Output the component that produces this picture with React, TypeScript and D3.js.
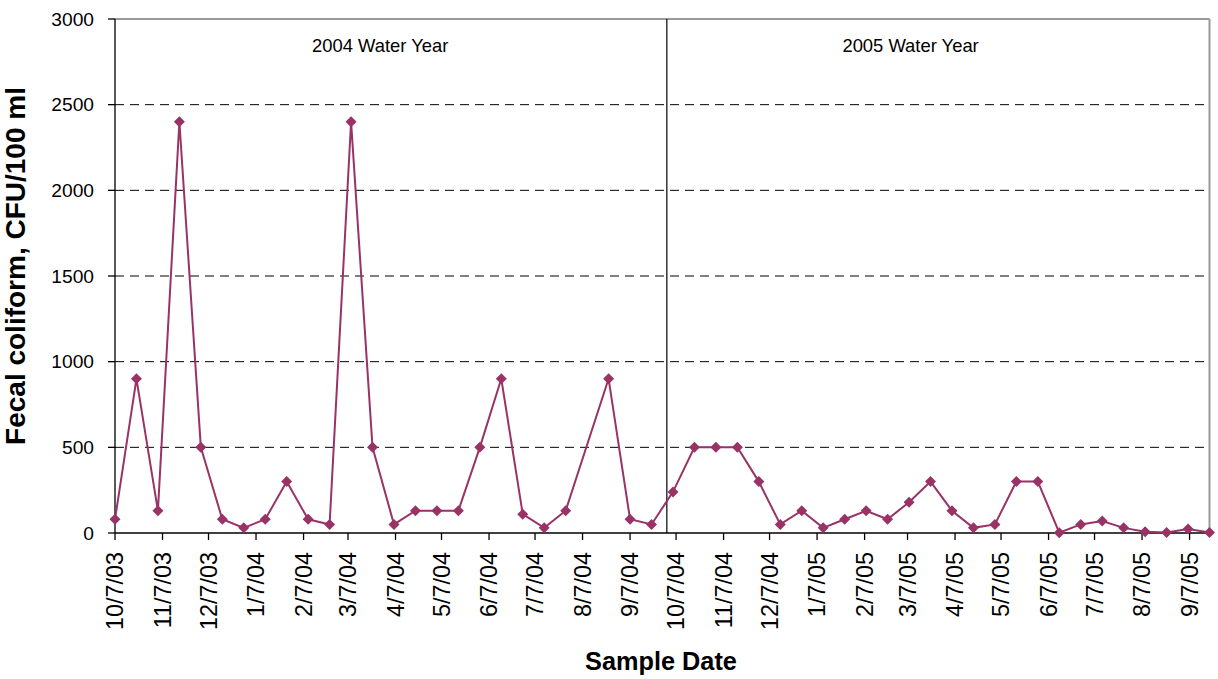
import React from "react";
import * as d3 from "d3";

const sampleDates: string[] = [
  "2003-10-07", "2003-10-21", "2003-11-04", "2003-11-18", "2003-12-02", "2003-12-16", "2003-12-30",
  "2004-01-13", "2004-01-27", "2004-02-10", "2004-02-24", "2004-03-09", "2004-03-23", "2004-04-06",
  "2004-04-20", "2004-05-04", "2004-05-18", "2004-06-01", "2004-06-15", "2004-06-29", "2004-07-13",
  "2004-07-27", "2004-08-24", "2004-09-07", "2004-09-21", "2004-10-05", "2004-10-19", "2004-11-02",
  "2004-11-16", "2004-11-30", "2004-12-14", "2004-12-28", "2005-01-11", "2005-01-25", "2005-02-08",
  "2005-02-22", "2005-03-08", "2005-03-22", "2005-04-05", "2005-04-19", "2005-05-03", "2005-05-17",
  "2005-05-31", "2005-06-14", "2005-06-28", "2005-07-12", "2005-07-26", "2005-08-09", "2005-08-23",
  "2005-09-06", "2005-09-20",
];

const fecalColiform: number[] = [
  80, 900, 130, 2400, 500, 80, 30,
  80, 300, 80, 50, 2400, 500, 50,
  130, 130, 130, 500, 900, 110, 30,
  130, 900, 80, 50, 240, 500, 500,
  500, 300, 50, 130, 30, 80, 130,
  80, 180, 300, 130, 30, 50, 300,
  300, 2, 50, 70, 30, 8, 3,
  23, 3,
];

const tickDates: string[] = [
  "2003-10-07", "2003-11-07", "2003-12-07", "2004-01-07", "2004-02-07", "2004-03-07", "2004-04-07",
  "2004-05-07", "2004-06-07", "2004-07-07", "2004-08-07", "2004-09-07", "2004-10-07", "2004-11-07",
  "2004-12-07", "2005-01-07", "2005-02-07", "2005-03-07", "2005-04-07", "2005-05-07", "2005-06-07",
  "2005-07-07", "2005-08-07", "2005-09-07",
];

const yTicks: number[] = [0, 500, 1000, 1500, 2000, 2500, 3000];

const xDomain: string[] = ["2003-10-07", "2005-09-20"];
const waterYearBoundary = "2004-10-01";
const waterYearLabels: string[] = ["2004 Water Year", "2005 Water Year"];
const waterYearLabelDates: string[] = ["2004-03-28", "2005-03-09"];

const parse = d3.timeParse("%Y-%m-%d");
const fmt = (d: Date) => `${d.getMonth() + 1}/${d.getDate()}/${String(d.getFullYear()).slice(2)}`;

export default function App() {
  const W = 1218, H = 679;
  const left = 115, right = 1209.5, top = 19, bottom = 533;
  const color = "#993366";
  const font = "'Liberation Sans', Arial, sans-serif";

  const x = d3.scaleTime()
    .domain(xDomain.map((s) => parse(s) as Date))
    .range([left, right]);
  const y = d3.scaleLinear().domain([0, 3000]).range([bottom, top]);

  const pts = sampleDates.map((s, i) => ({ d: parse(s) as Date, v: fecalColiform[i] }));
  const line = d3.line<{ d: Date; v: number }>().x((p) => x(p.d)).y((p) => y(p.v));
  const r = 5.5;
  const bx = x(parse(waterYearBoundary) as Date);

  return (
    <svg width={W} height={H} style={{ position: "absolute", left: 0, top: 0, background: "#fff" }} fontFamily={font}>
      {yTicks.filter((t) => t > 0 && t < 3000).map((t) => (
        <line key={t} x1={left} x2={right} y1={y(t)} y2={y(t)} stroke="#000" strokeWidth={1} strokeDasharray="9,6" />
      ))}
      <line x1={left} x2={right} y1={y(3000)} y2={y(3000)} stroke="#999" strokeWidth={2} />
      <line x1={right} x2={right} y1={top} y2={bottom} stroke="#999" strokeWidth={2} />
      <line x1={bx} x2={bx} y1={top} y2={bottom} stroke="#000" strokeWidth={1.2} />
      {waterYearLabels.map((lab, i) => (
        <text key={lab} x={x(parse(waterYearLabelDates[i]) as Date)} y={51.5} textAnchor="middle" fontSize={18.4} fill="#000">
          {lab}
        </text>
      ))}
      <line x1={left} x2={left} y1={top} y2={bottom} stroke="#000" strokeWidth={1.3} />
      <line x1={left} x2={right} y1={bottom} y2={bottom} stroke="#000" strokeWidth={1.3} />
      {yTicks.map((t) => (
        <g key={t}>
          <line x1={left - 7} x2={left} y1={y(t)} y2={y(t)} stroke="#000" strokeWidth={1.3} />
          <text x={left - 21} y={y(t)} dy="0.35em" textAnchor="end" fontSize={19.2} fill="#000">{t}</text>
        </g>
      ))}
      {tickDates.map((s) => {
        const xx = x(parse(s) as Date);
        return (
          <g key={s}>
            <line x1={xx} x2={xx} y1={bottom} y2={bottom + 7} stroke="#000" strokeWidth={1.3} />
            <text transform={`translate(${xx},${bottom + 19}) rotate(-90)`} dy="0.35em" textAnchor="end" fontSize={23.4} fill="#000">
              {fmt(parse(s) as Date)}
            </text>
          </g>
        );
      })}
      <path d={line(pts) || ""} fill="none" stroke={color} strokeWidth={2} />
      {pts.map((p, i) => (
        <path key={i} d={`M${x(p.d)},${y(p.v) - r}L${x(p.d) + r},${y(p.v)}L${x(p.d)},${y(p.v) + r}L${x(p.d) - r},${y(p.v)}Z`} fill={color} />
      ))}
      <text transform={`translate(25,266) rotate(-90)`} textAnchor="middle" fontSize={28} fontWeight="bold" fill="#000">
        Fecal coliform, CFU/100 ml
      </text>
      <text x={661} y={670} textAnchor="middle" fontSize={25.3} fontWeight="bold" fill="#000">
        Sample Date
      </text>
    </svg>
  );
}
